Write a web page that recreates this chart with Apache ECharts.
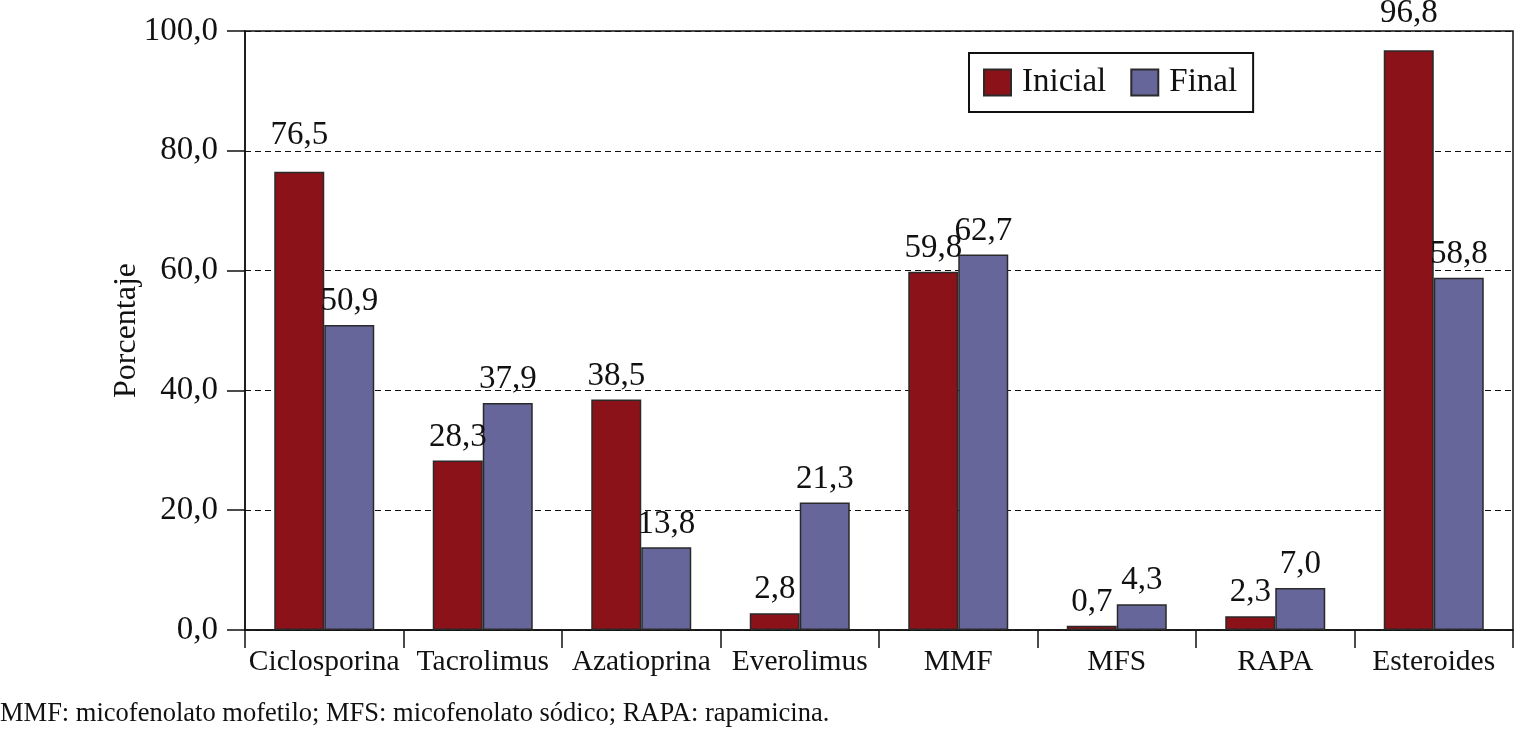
<!DOCTYPE html>
<html><head><meta charset="utf-8">
<script src="https://cdn.jsdelivr.net/npm/echarts@6/dist/echarts.min.js"></script>
<style>html,body{margin:0;padding:0;background:#fff}#c{width:1515px;height:734px}</style>
</head><body><div id="c"></div>
<script>
var categories = ['Ciclosporina','Tacrolimus','Azatioprina','Everolimus','MMF','MFS','RAPA','Esteroides'];
var inicial = [76.5, 28.3, 38.5, 2.8, 59.8, 0.7, 2.3, 96.8];
var finalV = [50.9, 37.9, 13.8, 21.3, 62.7, 4.3, 7.0, 58.8];
var seriesNames = ['Inicial','Final'];
var footnote = 'MMF: micofenolato mofetilo; MFS: micofenolato sódico; RAPA: rapamicina.';
var F = '"Liberation Serif","DejaVu Serif",serif';
var fmt = function(v){ return v.toFixed(1).replace('.', ','); };
// labels in the original sit a bit higher above these bars
var raisedLabel = {0:{0:20, 7:20}, 1:{}};
function build(vals, si){
  return vals.map(function(v,i){
    var d = {value:v};
    if (raisedLabel[si][i] != null) d.label = {distance: raisedLabel[si][i]};
    return d;
  });
}
var labelCfg = {show:true,position:'top',distance:7,fontFamily:F,fontSize:33,color:'#111',formatter:function(p){return fmt(p.value);}};
var chart = echarts.init(document.getElementById('c'));
chart.setOption({
  animation:false,
  backgroundColor:'#fff',
  textStyle:{fontFamily:F,color:'#111'},
  grid:{left:245,right:2,top:31,bottom:104,show:true,borderColor:'#111',borderWidth:1.5,backgroundColor:'transparent'},
  legend:{
    data:seriesNames, left:969, top:53,
    padding:[13,16,13,14], itemGap:24,
    borderColor:'#111', borderWidth:2, itemWidth:27, itemHeight:26,
    textStyle:{fontFamily:F,fontSize:33,color:'#111',padding:[0,0,0,6]},
    icon:'rect'
  },
  graphic:[{type:'text',left:0,top:701,style:{text:footnote,font:'26.5px '+F,fill:'#111'}}],
  xAxis:{
    type:'category', data:categories,
    axisLine:{lineStyle:{color:'#111',width:1.5}},
    axisTick:{show:true,length:18,lineStyle:{color:'#111',width:1.5}},
    axisLabel:{fontFamily:F,fontSize:29.5,color:'#111',margin:17,interval:0}
  },
  yAxis:{
    type:'value', min:0, max:100, interval:20,
    name:'Porcentaje', nameLocation:'middle', nameGap:102, nameMoveOverlap:false,
    nameTextStyle:{fontFamily:F,fontSize:32,color:'#111'},
    axisLine:{show:true,lineStyle:{color:'#111',width:1.5}},
    axisTick:{show:true,length:18,lineStyle:{color:'#111',width:1.5}},
    axisLabel:{fontFamily:F,fontSize:33,color:'#111',margin:27,formatter:function(v){return fmt(v);}},
    splitLine:{show:true,lineStyle:{color:'#111',width:1.2,type:[6,4]}}
  },
  series:[
    {name:seriesNames[0],type:'bar',data:build(inicial,0),barWidth:50,barGap:'0%',
     itemStyle:{color:'#8B1219',borderColor:'#2a2a2a',borderWidth:1.5},
     label:labelCfg},
    {name:seriesNames[1],type:'bar',data:build(finalV,1),barWidth:50,barGap:'0%',
     itemStyle:{color:'#66669A',borderColor:'#2a2a2a',borderWidth:1.5},
     label:labelCfg}
  ]
});
</script></body></html>
